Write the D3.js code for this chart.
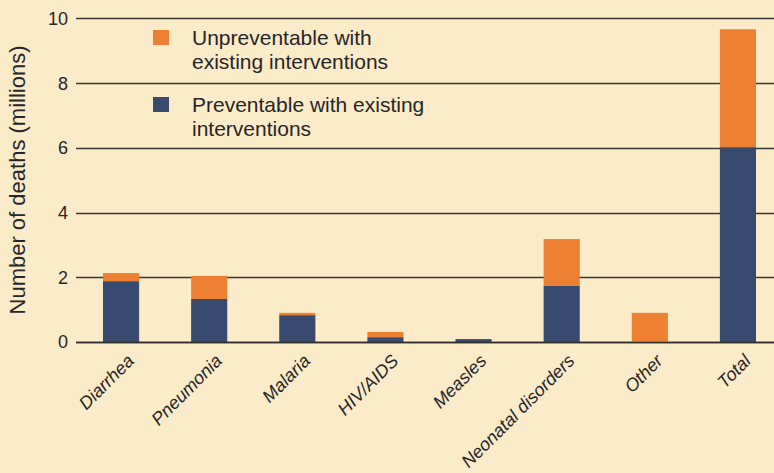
<!DOCTYPE html>
<html><head><meta charset="utf-8">
<script src="https://cdn.jsdelivr.net/npm/d3@7"></script>
<style>
html,body{margin:0;padding:0;background:#FCEBC9;}
svg{display:block;}
</style></head>
<body>
<svg id="chart" width="774" height="473"></svg>
<script>
const categories = ["Diarrhea","Pneumonia","Malaria","HIV/AIDS","Measles","Neonatal disorders","Other","Total"];
const preventable = [1.88, 1.33, 0.83, 0.15, 0.09, 1.73, 0.00, 6.02];
const unpreventable = [0.25, 0.71, 0.07, 0.16, 0.00, 1.45, 0.90, 3.64];
const yTicks = [0, 2, 4, 6, 8, 10];
const seriesNames = ["Unpreventable with existing interventions", "Preventable with existing interventions"];
const legendLines = [["Unpreventable with", "existing interventions"], ["Preventable with existing", "interventions"]];

const W = 774, H = 473;
const svg = d3.select("#chart");
svg.append("rect").attr("width", W).attr("height", H).attr("fill", "#FCEBC9");

const y = d3.scaleLinear().domain([0, 10]).range([342, 18.3]);
const x = d3.scaleBand().domain(categories).range([77, 782]).paddingInner(0.59).paddingOuter(0.295);

const mainFont = "'Liberation Sans', Arial, sans-serif";
const ink = "#262626";

// gridlines
svg.append("g").selectAll("line").data(yTicks).join("line")
  .attr("x1", 76).attr("x2", 774)
  .attr("y1", d => Math.round(y(d)) + 0.5).attr("y2", d => Math.round(y(d)) + 0.5)
  .attr("stroke", "#3b3733").attr("stroke-width", 1.4);

// y tick labels
svg.append("g").selectAll("text").data(yTicks).join("text")
  .attr("x", 68).attr("y", d => y(d)).attr("dy", "0.36em")
  .attr("text-anchor", "end")
  .attr("font-family", mainFont).attr("font-size", 18).attr("fill", ink)
  .text(d => d);

// stacked bars
const rows = categories.map((c, i) => ({cat: c, prev: preventable[i], unprev: unpreventable[i]}));
const stack = d3.stack().keys(["prev", "unprev"])(rows);
const colors = {prev: "#384A6E", unprev: "#EE8033"};
svg.append("g").selectAll("g").data(stack).join("g")
  .attr("fill", s => colors[s.key])
  .selectAll("rect").data(s => s.filter(d => d[1] - d[0] > 0)).join("rect")
  .attr("x", d => x(d.data.cat))
  .attr("width", x.bandwidth())
  .attr("y", d => y(d[1]))
  .attr("height", d => y(d[0]) - y(d[1]));

// baseline axis line redraw on top
svg.append("line").attr("x1", 76).attr("x2", 774)
  .attr("y1", Math.round(y(0)) + 0.5).attr("y2", Math.round(y(0)) + 0.5)
  .attr("stroke", "#2f2c29").attr("stroke-width", 1.4);

// x labels
svg.append("g").selectAll("text").data(categories).join("text")
  .attr("transform", d => `translate(${x(d) + x.bandwidth() / 2 + 14},362) rotate(-45)`)
  .attr("text-anchor", "end")
  .attr("font-family", mainFont).attr("font-style", "italic")
  .attr("font-size", 18).attr("fill", ink)
  .text(d => d);

// y axis title
svg.append("text")
  .attr("transform", "translate(25,180) rotate(-90)")
  .attr("text-anchor", "middle")
  .attr("font-family", mainFont).attr("font-size", 22).attr("fill", ink)
  .text("Number of deaths (millions)");

// legend
const legendColors = ["#EE8033", "#384A6E"];
const lg = svg.append("g");
const lgTop = [30, 97];
legendLines.forEach((lines, i) => {
  lg.append("rect").attr("x", 153).attr("y", lgTop[i]).attr("width", 16).attr("height", 15).attr("fill", legendColors[i]);
  const t = lg.append("text").attr("font-family", mainFont).attr("font-size", 21).attr("fill", ink);
  lines.forEach((ln, j) => {
    t.append("tspan").attr("x", 192).attr("y", lgTop[i] + 15 + j * 24).text(ln);
  });
});
</script>
</body></html>
